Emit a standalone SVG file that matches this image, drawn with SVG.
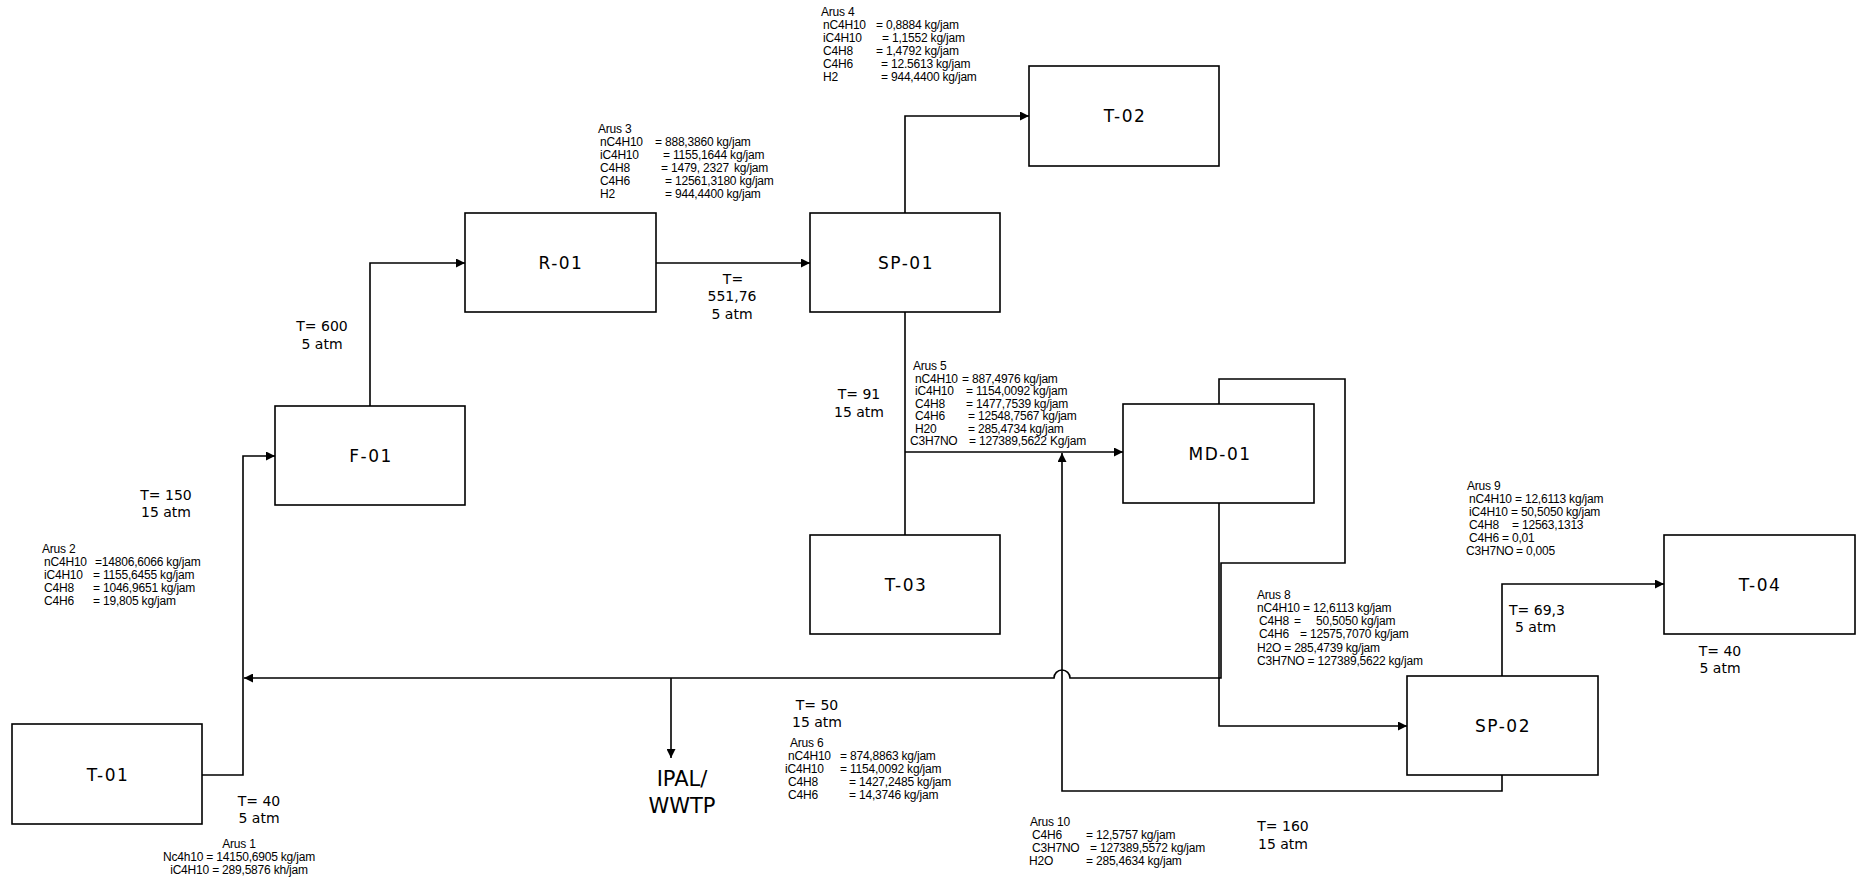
<svg xmlns="http://www.w3.org/2000/svg" width="1856" height="879" viewBox="0 0 1856 879">
<style>
.box{fill:#fff;stroke:#000;stroke-width:1.6}
.ln{fill:none;stroke:#000;stroke-width:1.6}
.lbl{font-family:"DejaVu Sans","Liberation Sans",sans-serif;font-size:17px;text-anchor:middle;letter-spacing:1.5px;fill:#000}
.c{font-family:"DejaVu Sans","Liberation Sans",sans-serif;font-size:14px;fill:#000}
.cm{font-family:"DejaVu Sans","Liberation Sans",sans-serif;font-size:14px;fill:#000;text-anchor:middle}
.s{font-family:"Liberation Sans",Arial,sans-serif;font-size:12px;letter-spacing:-0.2px;fill:#000}
.sm{font-family:"Liberation Sans",Arial,sans-serif;font-size:12px;letter-spacing:-0.2px;fill:#000;text-anchor:middle}
.big{font-family:"DejaVu Sans","Liberation Sans",sans-serif;font-size:21px;fill:#000;text-anchor:middle}
</style>
<defs>
<marker id="ah" viewBox="0 0 10 10" refX="10" refY="5" markerWidth="12" markerHeight="9" markerUnits="userSpaceOnUse" orient="auto"><path d="M0,0 L10,5 L0,10 z" fill="#000"/></marker>
</defs>
<rect width="1856" height="879" fill="#fff"/>

<g id="connectors">
<path class="ln" d="M202,775 H243 V456 H275" marker-end="url(#ah)"/>
<path class="ln" d="M370,406 V263 H465" marker-end="url(#ah)"/>
<path class="ln" d="M656,263 H810" marker-end="url(#ah)"/>
<path class="ln" d="M905,213 V116 H1029" marker-end="url(#ah)"/>
<path class="ln" d="M905,312 V535"/>
<path class="ln" d="M905,452 H1123" marker-end="url(#ah)"/>
<path class="ln" d="M1219,404 V379 H1345 V563 H1221 V678 H1070 A8,8 0 0 0 1054,678 H244" marker-end="url(#ah)"/>
<path class="ln" d="M1219,503 V726 H1407" marker-end="url(#ah)"/>
<path class="ln" d="M1502,676 V584 H1664" marker-end="url(#ah)"/>
<path class="ln" d="M1502,775 V791 H1062 V453" marker-end="url(#ah)"/>
<path class="ln" d="M671,678 V758" marker-end="url(#ah)"/>
</g>

<g id="T-01"><rect class="box" x="12" y="724" width="190" height="100"/><text class="lbl" x="108" y="781">T-01</text></g>
<g id="F-01"><rect class="box" x="275" y="406" width="190" height="99"/><text class="lbl" x="371" y="462">F-01</text></g>
<g id="R-01"><rect class="box" x="465" y="213" width="191" height="99"/><text class="lbl" x="561" y="269">R-01</text></g>
<g id="SP-01"><rect class="box" x="810" y="213" width="190" height="99"/><text class="lbl" x="906" y="269">SP-01</text></g>
<g id="T-02"><rect class="box" x="1029" y="66" width="190" height="100"/><text class="lbl" x="1125" y="122">T-02</text></g>
<g id="T-03"><rect class="box" x="810" y="535" width="190" height="99"/><text class="lbl" x="906" y="591">T-03</text></g>
<g id="MD-01"><rect class="box" x="1123" y="404" width="191" height="99"/><text class="lbl" x="1220" y="460">MD-01</text></g>
<g id="SP-02"><rect class="box" x="1407" y="676" width="191" height="99"/><text class="lbl" x="1503" y="732">SP-02</text></g>
<g id="T-04"><rect class="box" x="1664" y="535" width="191" height="99"/><text class="lbl" x="1760" y="591">T-04</text></g>

<g id="conditions">
<text class="cm" x="322" y="331">T= 600</text><text class="cm" x="322" y="349">5 atm</text>
<text class="cm" x="166" y="500">T= 150</text><text class="cm" x="166" y="517">15 atm</text>
<text class="cm" x="259" y="806">T= 40</text><text class="cm" x="259" y="823">5 atm</text>
<text class="cm" x="733" y="284">T=</text><text class="cm" x="732" y="301">551,76</text><text class="cm" x="732" y="319">5 atm</text>
<text class="cm" x="859" y="399">T= 91</text><text class="cm" x="859" y="417">15 atm</text>
<text class="cm" x="817" y="710">T= 50</text><text class="cm" x="817" y="727">15 atm</text>
<text class="cm" x="1283" y="831">T= 160</text><text class="cm" x="1283" y="849">15 atm</text>
<text class="c" x="1509" y="615">T= 69,3</text><text class="c" x="1515" y="632">5 atm</text>
<text class="cm" x="1720" y="656">T= 40</text><text class="cm" x="1720" y="673">5 atm</text>
<text class="big" x="682" y="786">IPAL/</text><text class="big" x="682" y="813">WWTP</text>
</g>

<g id="arus4" xml:space="preserve">
<text class="s" x="821" y="16">Arus 4</text>
<text class="s" y="28.5"><tspan x="823">nC4H10</tspan><tspan x="876">= 0,8884 kg/jam</tspan></text>
<text class="s" y="41.5"><tspan x="823">iC4H10</tspan><tspan x="882">= 1,1552  kg/jam</tspan></text>
<text class="s" y="54.5"><tspan x="823">C4H8</tspan><tspan x="876">= 1,4792  kg/jam</tspan></text>
<text class="s" y="67.5"><tspan x="823">C4H6</tspan><tspan x="881">= 12.5613 kg/jam</tspan></text>
<text class="s" y="80.5"><tspan x="823">H2</tspan><tspan x="881">= 944,4400 kg/jam</tspan></text>
</g>

<g id="arus3">
<text class="s" x="598" y="133">Arus 3</text>
<text class="s" y="146"><tspan x="600">nC4H10</tspan><tspan x="655">= 888,3860 kg/jam</tspan></text>
<text class="s" y="159"><tspan x="600">iC4H10</tspan><tspan x="663">= 1155,1644 kg/jam</tspan></text>
<text class="s" y="172"><tspan x="600">C4H8</tspan><tspan x="661">= 1479, 2327</tspan><tspan x="734">kg/jam</tspan></text>
<text class="s" y="185"><tspan x="600">C4H6</tspan><tspan x="665">= 12561,3180 kg/jam</tspan></text>
<text class="s" y="198"><tspan x="600">H2</tspan><tspan x="665">= 944,4400 kg/jam</tspan></text>
</g>

<g id="arus5" xml:space="preserve">
<text class="s" x="913" y="370">Arus 5</text>
<text class="s" y="382.5"><tspan x="915">nC4H10</tspan><tspan x="962">= 887,4976 kg/jam</tspan></text>
<text class="s" y="395"><tspan x="915">iC4H10</tspan><tspan x="966">= 1154,0092  kg/jam</tspan></text>
<text class="s" y="407.5"><tspan x="915">C4H8</tspan><tspan x="966">= 1477,7539 kg/jam</tspan></text>
<text class="s" y="420"><tspan x="915">C4H6</tspan><tspan x="968">= 12548,7567 kg/jam</tspan></text>
<text class="s" y="432.5"><tspan x="915">H20</tspan><tspan x="968">= 285,4734 kg/jam</tspan></text>
<text class="s" y="445"><tspan x="910">C3H7NO</tspan><tspan x="969">= 127389,5622 Kg/jam</tspan></text>
</g>

<g id="arus2">
<text class="s" x="42" y="553">Arus 2</text>
<text class="s" y="566"><tspan x="44">nC4H10</tspan><tspan x="95">=14806,6066 kg/jam</tspan></text>
<text class="s" y="579"><tspan x="44">iC4H10</tspan><tspan x="93">= 1155,6455 kg/jam</tspan></text>
<text class="s" y="592"><tspan x="44">C4H8</tspan><tspan x="93">= 1046,9651 kg/jam</tspan></text>
<text class="s" y="605"><tspan x="44">C4H6</tspan><tspan x="93">= 19,805 kg/jam</tspan></text>
</g>

<g id="arus1">
<text class="sm" x="239" y="848">Arus 1</text>
<text class="sm" x="239" y="861">Nc4h10 = 14150,6905 kg/jam</text>
<text class="sm" x="239" y="874">iC4H10 = 289,5876 kh/jam</text>
</g>

<g id="arus6" xml:space="preserve">
<text class="s" x="790" y="747">Arus 6</text>
<text class="s" y="760"><tspan x="788">nC4H10</tspan><tspan x="840">= 874,8863 kg/jam</tspan></text>
<text class="s" y="773"><tspan x="785">iC4H10</tspan><tspan x="840">=  1154,0092 kg/jam</tspan></text>
<text class="s" y="786"><tspan x="788">C4H8</tspan><tspan x="849">= 1427,2485  kg/jam</tspan></text>
<text class="s" y="799"><tspan x="788">C4H6</tspan><tspan x="849">= 14,3746 kg/jam</tspan></text>
</g>

<g id="arus10">
<text class="s" x="1030" y="826">Arus 10</text>
<text class="s" y="839"><tspan x="1032">C4H6</tspan><tspan x="1086">= 12,5757 kg/jam</tspan></text>
<text class="s" y="852"><tspan x="1032">C3H7NO</tspan><tspan x="1090">= 127389,5572 kg/jam</tspan></text>
<text class="s" y="865"><tspan x="1029">H2O</tspan><tspan x="1086">= 285,4634 kg/jam</tspan></text>
</g>

<g id="arus8">
<text class="s" x="1257" y="599">Arus 8</text>
<text class="s" x="1257" y="612">nC4H10 = 12,6113 kg/jam</text>
<text class="s" y="625"><tspan x="1259">C4H8</tspan><tspan x="1294">=</tspan><tspan x="1316">50,5050 kg/jam</tspan></text>
<text class="s" y="638"><tspan x="1259">C4H6</tspan><tspan x="1300">= 12575,7070 kg/jam</tspan></text>
<text class="s" x="1257" y="651.5">H2O = 285,4739 kg/jam</text>
<text class="s" x="1257" y="665">C3H7NO = 127389,5622 kg/jam</text>
</g>

<g id="arus9">
<text class="s" x="1467" y="490">Arus 9</text>
<text class="s" x="1469" y="503">nC4H10 = 12,6113 kg/jam</text>
<text class="s" x="1469" y="516">iC4H10 = 50,5050 kg/jam</text>
<text class="s" y="529"><tspan x="1469">C4H8</tspan><tspan x="1512">= 12563,1313</tspan></text>
<text class="s" y="542"><tspan x="1469">C4H6</tspan><tspan x="1502">= 0,01</tspan></text>
<text class="s" y="555"><tspan x="1466">C3H7NO</tspan><tspan x="1516">= 0,005</tspan></text>
</g>
</svg>
